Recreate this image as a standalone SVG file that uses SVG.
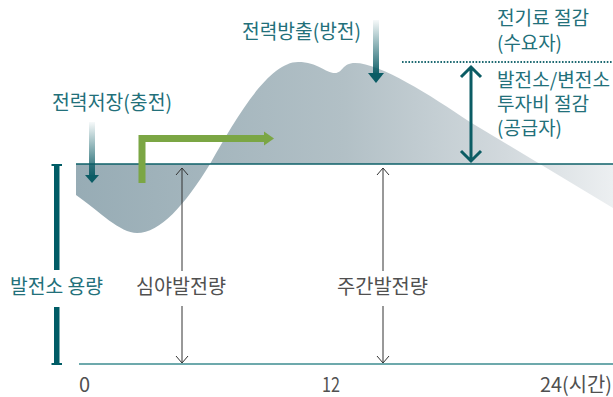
<svg xmlns="http://www.w3.org/2000/svg" width="613" height="397" viewBox="0 0 613 397">
<defs>
<linearGradient id="areaGrad" gradientUnits="userSpaceOnUse" x1="76" y1="0" x2="613" y2="0">
<stop offset="0" stop-color="#97acb5"/>
<stop offset="0.5" stop-color="#b2c0c6"/>
<stop offset="0.8" stop-color="#d2d9dd"/>
<stop offset="1" stop-color="#eceff1"/>
</linearGradient>
<linearGradient id="downGrad1" gradientUnits="userSpaceOnUse" x1="0" y1="120" x2="0" y2="178">
<stop offset="0" stop-color="#0b5c65" stop-opacity="0"/>
<stop offset="1" stop-color="#0b5c65"/>
</linearGradient>
<linearGradient id="downGrad2" gradientUnits="userSpaceOnUse" x1="0" y1="18" x2="0" y2="76">
<stop offset="0" stop-color="#0b5c65" stop-opacity="0"/>
<stop offset="1" stop-color="#0b5c65"/>
</linearGradient>
</defs>
<style>
text{font-family:"Noto Sans CJK KR","Noto Sans",sans-serif;font-size:20px}
.stack{font-size:19px}
.teal{fill:#22707a}
.grey{fill:#505050}
.thin{stroke:#333;stroke-width:1;fill:none}
</style>

<g id="area">
<path d="M76,164 L76,195 C100,212 120,233 137,233 C160,233 185,205 210,164 C235,120 268,62 298,62 C318,62 325,73 335,73 C343,73 342,63 355,63 C380,63 430,95 470,122 L613,208 L613,164 Z" fill="url(#areaGrad)"/>
</g>

<g id="connectors">
<line x1="76" y1="164" x2="613" y2="164" stroke="#0e6169" stroke-width="1.6"/>
<line x1="79" y1="364" x2="613" y2="364" stroke="#3c8c90" stroke-width="1.6"/>
<line x1="402" y1="62" x2="613" y2="62" stroke="#1e6a72" stroke-width="2" stroke-dasharray="1.6 1.6"/>
<g fill="#005c66">
<rect x="54" y="165" width="5.5" height="105"/>
<rect x="54" y="307" width="5.5" height="57"/>
<rect x="51.5" y="164" width="10.5" height="2"/>
<rect x="51.5" y="363" width="10.5" height="2"/>
</g>
<rect x="89" y="122" width="6" height="54" fill="url(#downGrad1)"/>
<polygon points="85,175 99,175 92,183" fill="#0b5c65"/>
<rect x="373" y="20" width="6" height="54" fill="url(#downGrad2)"/>
<polygon points="368,73 384,73 376,83" fill="#0b5c65"/>
<path d="M142,183 V138.5 H266" fill="none" stroke="#7ba644" stroke-width="7"/>
<polygon points="264,131.5 274,138.5 264,145.5" fill="#7ba644"/>
<path class="thin" d="M182,168 V271 M176,175 L182,168 L188,175 M182,306 V363 M176,356 L182,363 L188,356"/>
<path class="thin" d="M383,168 V271 M377,175 L383,168 L389,175 M383,306 V363 M377,356 L383,363 L389,356"/>
<path d="M471,67 V161 M461,77 L471,67 L481,77 M461,151 L471,161 L481,151" fill="none" stroke="#0b5c64" stroke-width="3"/>
</g>

<g id="label-discharge"><text class="teal" x="242" y="39" textLength="119" lengthAdjust="spacingAndGlyphs">전력방출(방전)</text></g>
<g id="label-charge"><text class="teal" x="52" y="110" textLength="120" lengthAdjust="spacingAndGlyphs">전력저장(충전)</text></g>
<g id="label-demand">
<text class="teal stack" x="497" y="25" textLength="92" lengthAdjust="spacingAndGlyphs">전기료 절감</text>
<text class="teal stack" x="497" y="50" textLength="65" lengthAdjust="spacingAndGlyphs">(수요자)</text>
</g>
<g id="label-supply">
<text class="teal stack" x="497" y="87" textLength="113" lengthAdjust="spacingAndGlyphs">발전소/변전소</text>
<text class="teal stack" x="497" y="111" textLength="92" lengthAdjust="spacingAndGlyphs">투자비 절감</text>
<text class="teal stack" x="497" y="135" textLength="65" lengthAdjust="spacingAndGlyphs">(공급자)</text>
</g>
<g id="label-capacity"><text class="teal" x="10" y="294" textLength="93" lengthAdjust="spacingAndGlyphs">발전소 용량</text></g>
<g id="label-night"><text class="grey" x="136" y="294" textLength="90" lengthAdjust="spacingAndGlyphs">심야발전량</text></g>
<g id="label-day"><text class="grey" x="337" y="294" textLength="91" lengthAdjust="spacingAndGlyphs">주간발전량</text></g>
<g id="axis-labels">
<text class="grey" x="79" y="392" font-size="19">0</text>
<text class="grey" x="322" y="392" font-size="19" textLength="18" lengthAdjust="spacingAndGlyphs">12</text>
<text class="grey" x="540" y="392" font-size="19" textLength="72" lengthAdjust="spacingAndGlyphs">24(시간)</text>
</g>
</svg>
